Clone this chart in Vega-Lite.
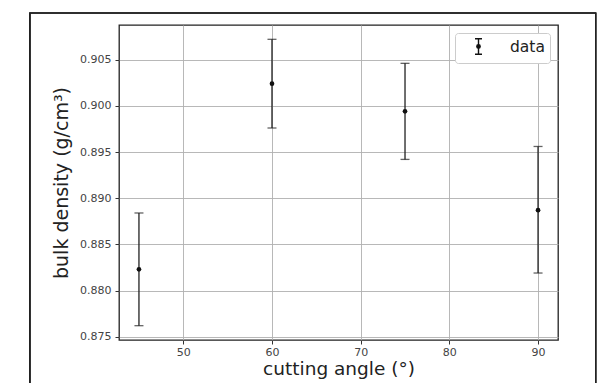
{
  "$schema": "https://vega.github.io/schema/vega-lite/v6.json",
  "autosize": "none",
  "width": 439,
  "height": 315,
  "padding": {"left": 119, "top": 25, "right": 46, "bottom": 43},
  "background": "white",
  "config": {
    "font": "DejaVu Sans",
    "view": {"stroke": "#222", "strokeWidth": 1.3},
    "axis": {
      "domain": false,
      "grid": true,
      "gridColor": "#b0b0b0",
      "gridWidth": 0.9,
      "tickColor": "#333",
      "tickSize": 4,
      "labelFontSize": 11,
      "labelColor": "#444",
      "titleFontSize": 18.5,
      "titleFontWeight": "normal",
      "titleColor": "#222"
    }
  },
  "data": {
    "values": [
      {"angle": 45, "density": 0.8823, "lo": 0.8762, "hi": 0.8884, "series": "data"},
      {"angle": 60, "density": 0.9024, "lo": 0.8976, "hi": 0.9072, "series": "data"},
      {"angle": 75, "density": 0.8994, "lo": 0.8942, "hi": 0.9046, "series": "data"},
      {"angle": 90, "density": 0.8887, "lo": 0.8819, "hi": 0.8956, "series": "data"}
    ]
  },
  "layer": [
    {
      "mark": {"type": "rect", "fill": null, "stroke": "#222", "strokeWidth": 1.2, "clip": false},
      "encoding": {
        "x": {"datum": 32.7, "type": "quantitative"},
        "x2": {"datum": 96.5},
        "y": {"datum": 0.91005, "type": "quantitative"},
        "y2": {"datum": 0.8680}
      }
    },
    {
      "mark": {"type": "errorbar", "color": "#222", "thickness": 1.3, "ticks": {"size": 9, "color": "#222", "thickness": 1.3}},
      "encoding": {
        "x": {"field": "angle", "type": "quantitative"},
        "y": {"field": "lo", "type": "quantitative", "title": "bulk density (g/cm³)"},
        "y2": {"field": "hi"}
      }
    },
    {
      "mark": {"type": "point", "filled": true, "size": 22, "opacity": 1},
      "encoding": {
        "x": {
          "field": "angle",
          "type": "quantitative",
          "scale": {"domain": [42.75, 92.25], "nice": false, "zero": false},
          "axis": {"values": [50, 60, 70, 80, 90], "title": "cutting angle (°)", "labelPadding": 2, "titlePadding": 2}
        },
        "y": {
          "field": "density",
          "type": "quantitative",
          "scale": {"domain": [0.87465, 0.90875], "nice": false, "zero": false},
          "axis": {"values": [0.875, 0.88, 0.885, 0.89, 0.895, 0.9, 0.905], "format": ".3f", "title": "bulk density (g/cm³)", "labelPadding": 4, "titlePadding": 8, "titleFontSize": 19}
        },
        "color": {
          "field": "series",
          "type": "nominal",
          "scale": {"range": ["#111"]},
          "legend": {
            "title": null,
            "orient": "top-right",
            "offset": 8,
            "padding": 5,
            "fillColor": "white",
            "strokeColor": "#ccc",
            "cornerRadius": 3,
            "labelFontSize": 15.5,
            "labelColor": "#222",
            "symbolType": "M0,-1L0,1M-0.45,-1L0.45,-1M-0.45,1L0.45,1M0.22,0A0.22,0.22 0 1,1 -0.22,0A0.22,0.22 0 1,1 0.22,0Z",
            "symbolSize": 240,
            "symbolStrokeWidth": 1.4,
            "symbolStrokeColor": "#111",
            "symbolFillColor": "#111",
            "labelOffset": 23,
            "symbolOffset": 10
          }
        }
      }
    }
  ]
}
